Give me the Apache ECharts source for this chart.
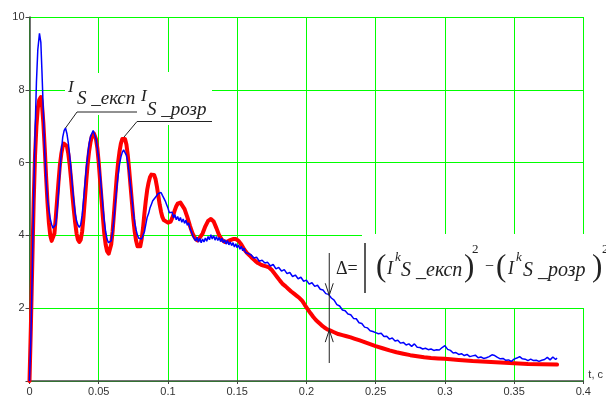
<!DOCTYPE html>
<html>
<head>
<meta charset="utf-8">
<script src="https://cdn.jsdelivr.net/npm/echarts@6/dist/echarts.min.js"></script>
<style>
  html, body { margin: 0; padding: 0; background: #fff; }
  #chart { width: 606px; height: 397px; }
</style>
</head>
<body>
<div id="chart"></div>
<script>
// експериментальний струм (синій)
const expT = [
  0, 0.001, 0.002, 0.003, 0.004, 0.005, 0.006, 0.0072, 0.0082, 0.009,
  0.010, 0.011, 0.012, 0.013, 0.014, 0.015, 0.016, 0.017, 0.018, 0.019,
  0.020, 0.021, 0.022, 0.023, 0.024, 0.025, 0.026, 0.027, 0.028, 0.029,
  0.030, 0.031, 0.032, 0.033, 0.034, 0.035, 0.036, 0.037, 0.038, 0.039,
  0.040, 0.041, 0.042, 0.043, 0.044, 0.045, 0.046, 0.047, 0.048, 0.049,
  0.050, 0.051, 0.052, 0.053, 0.054, 0.055, 0.056, 0.057, 0.058, 0.059,
  0.060, 0.061, 0.062, 0.063, 0.064, 0.065, 0.066, 0.067, 0.068, 0.069,
  0.070, 0.071, 0.072, 0.073, 0.074, 0.075, 0.076, 0.077, 0.078, 0.079,
  0.080, 0.081, 0.082, 0.083, 0.084, 0.085, 0.086, 0.087, 0.088, 0.089,
  0.090, 0.091, 0.092, 0.093, 0.094, 0.095, 0.096, 0.097, 0.098, 0.099,
  0.100, 0.101, 0.102, 0.103, 0.104, 0.105, 0.106, 0.107, 0.108, 0.109,
  0.110, 0.111, 0.112, 0.113, 0.114, 0.115, 0.116, 0.117, 0.118, 0.119,
  0.120, 0.121, 0.122, 0.123, 0.124, 0.125, 0.126, 0.127, 0.128, 0.129,
  0.130, 0.131, 0.132, 0.133, 0.134, 0.135, 0.136, 0.137, 0.138, 0.139,
  0.140, 0.141, 0.142, 0.143, 0.144, 0.145, 0.146, 0.147, 0.148, 0.149,
  0.150, 0.151, 0.152, 0.153, 0.154, 0.155, 0.156, 0.158, 0.160, 0.162,
  0.164, 0.166, 0.168, 0.170, 0.172, 0.174, 0.176, 0.178, 0.180, 0.182,
  0.184, 0.186, 0.188, 0.190, 0.192, 0.194, 0.196, 0.198, 0.200, 0.202,
  0.204, 0.206, 0.208, 0.210, 0.212, 0.214, 0.216, 0.218, 0.220, 0.222,
  0.224, 0.226, 0.228, 0.230, 0.232, 0.234, 0.236, 0.238, 0.240, 0.242,
  0.244, 0.246, 0.248, 0.250, 0.252, 0.254, 0.256, 0.258, 0.260, 0.262,
  0.264, 0.266, 0.268, 0.270, 0.272, 0.274, 0.276, 0.278, 0.280, 0.282,
  0.284, 0.286, 0.288, 0.290, 0.292, 0.294, 0.296, 0.298, 0.300, 0.302,
  0.304, 0.306, 0.308, 0.310, 0.312, 0.314, 0.316, 0.318, 0.320, 0.322,
  0.324, 0.326, 0.328, 0.330, 0.332, 0.334, 0.336, 0.338, 0.340, 0.342,
  0.344, 0.346, 0.348, 0.350, 0.352, 0.354, 0.356, 0.358, 0.360, 0.362,
  0.364, 0.366, 0.368, 0.370, 0.372, 0.374, 0.376, 0.378, 0.380, 0.381
];
const expI = [
  0, 1.2, 3.0, 5.0, 6.8, 8.2, 9.1, 9.55, 9.3, 8.5,
  7.4, 6.3, 5.5, 5.0, 4.7, 4.45, 4.3, 4.2, 4.18, 4.3,
  4.7, 5.2, 5.75, 6.3, 6.7, 6.88, 6.95, 6.8, 6.55, 6.2,
  5.8, 5.35, 4.95, 4.6, 4.4, 4.28, 4.22, 4.3, 4.55, 4.95,
  5.4, 5.85, 6.2, 6.5, 6.7, 6.8, 6.88, 6.85, 6.65, 6.4,
  6.1, 5.7, 5.25, 4.8, 4.4, 4.1, 3.9, 3.8, 3.77, 3.85,
  4.1, 4.45, 4.9, 5.3, 5.65, 5.95, 6.15, 6.28, 6.35, 6.33,
  6.2, 6.0, 5.7, 5.35, 5.0, 4.65, 4.35, 4.15, 4.0, 3.92,
  3.88, 3.9, 3.95, 4.1, 4.3, 4.5, 4.6, 4.75, 4.85, 4.95,
  5.0, 5.05, 5.1, 5.15, 5.12, 5.18, 5.1, 5.05, 4.95, 4.85,
  4.75, 4.62, 4.58, 4.64, 4.48, 4.57, 4.43, 4.52, 4.4, 4.49,
  4.36, 4.45, 4.33, 4.42, 4.28, 4.34, 4.18, 4.1, 3.98, 3.93,
  3.85, 3.95, 3.82, 3.92, 3.8, 3.9, 3.82, 3.93, 3.84, 3.97,
  3.88, 4.02, 3.9, 4.0, 3.87, 3.97, 3.86, 3.94, 3.83, 3.92,
  3.8, 3.88, 3.76, 3.86, 3.74, 3.82, 3.72, 3.8, 3.68, 3.77,
  3.66, 3.74, 3.62, 3.7, 3.58, 3.65, 3.53, 3.5, 3.47, 3.38,
  3.4, 3.29, 3.32, 3.24, 3.26, 3.16, 3.2, 3.08, 3.12, 3.02,
  3.06, 2.95, 2.98, 2.87, 2.91, 2.81, 2.85, 2.74, 2.77, 2.66,
  2.7, 2.6, 2.63, 2.52, 2.5, 2.4, 2.38, 2.28, 2.22, 2.1,
  2.06, 1.95, 1.93, 1.84, 1.82, 1.72, 1.71, 1.6, 1.58, 1.48,
  1.46, 1.38, 1.36, 1.33, 1.3, 1.31, 1.22, 1.23, 1.15, 1.18,
  1.1, 1.12, 1.04, 1.06, 0.99, 1.02, 0.95, 1.02, 0.93, 0.92,
  0.88, 0.9, 0.86, 0.88, 0.84, 0.86, 0.85, 0.92, 0.97, 0.87,
  0.84, 0.77, 0.78, 0.73, 0.75, 0.7, 0.73, 0.67, 0.69, 0.71,
  0.64, 0.66, 0.62, 0.64, 0.67, 0.72, 0.7, 0.65, 0.61, 0.62,
  0.57, 0.58, 0.54, 0.6, 0.63, 0.67, 0.61, 0.6, 0.56, 0.6,
  0.56, 0.57, 0.54, 0.57, 0.59, 0.65, 0.58, 0.66, 0.59, 0.63
];

// розрахунковий струм (червоний)
const calcT = [
  0, 0.001, 0.002, 0.003, 0.004, 0.005, 0.006, 0.007, 0.0082, 0.009,
  0.010, 0.011, 0.012, 0.013, 0.014, 0.015, 0.016, 0.017, 0.018, 0.019,
  0.020, 0.021, 0.022, 0.023, 0.024, 0.025, 0.0262, 0.027, 0.028, 0.029,
  0.030, 0.031, 0.032, 0.033, 0.034, 0.035, 0.036, 0.037, 0.038, 0.039,
  0.040, 0.041, 0.042, 0.043, 0.044, 0.045, 0.0465, 0.048, 0.049, 0.050,
  0.051, 0.052, 0.053, 0.054, 0.055, 0.056, 0.0572, 0.058, 0.059, 0.060,
  0.061, 0.062, 0.063, 0.064, 0.065, 0.066, 0.067, 0.0682, 0.069, 0.070,
  0.071, 0.072, 0.073, 0.074, 0.075, 0.076, 0.077, 0.078, 0.079, 0.080,
  0.081, 0.082, 0.083, 0.084, 0.085, 0.086, 0.087, 0.088, 0.089, 0.090,
  0.091, 0.092, 0.093, 0.094, 0.095, 0.096, 0.097, 0.098, 0.100, 0.101,
  0.102, 0.103, 0.104, 0.105, 0.106, 0.107, 0.108, 0.109, 0.110, 0.112,
  0.114, 0.116, 0.118, 0.120, 0.1216, 0.123, 0.125, 0.127, 0.129, 0.131,
  0.133, 0.135, 0.137, 0.139, 0.141, 0.143, 0.145, 0.147, 0.149, 0.151,
  0.153, 0.155, 0.157, 0.159, 0.161, 0.163, 0.165, 0.167, 0.169, 0.171,
  0.173, 0.175, 0.177, 0.179, 0.181, 0.183, 0.185, 0.187, 0.189, 0.191,
  0.193, 0.195, 0.197, 0.199, 0.201, 0.203, 0.205, 0.207, 0.209, 0.211,
  0.213, 0.215, 0.217, 0.220, 0.223, 0.226, 0.229, 0.232, 0.235, 0.238,
  0.241, 0.244, 0.247, 0.250, 0.255, 0.260, 0.265, 0.270, 0.275, 0.280,
  0.285, 0.290, 0.295, 0.300, 0.310, 0.320, 0.330, 0.340, 0.350, 0.360,
  0.370, 0.381
];
const calcI = [
  0, 1.5, 3.2, 4.9, 6.2, 7.0, 7.5, 7.72, 7.8, 7.6,
  7.1, 6.4, 5.6, 4.9, 4.35, 4.0, 3.85, 3.86, 4.05, 4.5,
  5.0, 5.5, 5.95, 6.25, 6.45, 6.52, 6.53, 6.45, 6.25, 5.95,
  5.55, 5.1, 4.7, 4.35, 4.05, 3.88, 3.82, 3.88, 4.1, 4.5,
  5.0, 5.5, 5.95, 6.3, 6.55, 6.72, 6.8, 6.65, 6.4, 6.0,
  5.5, 5.0, 4.5, 4.05, 3.75, 3.57, 3.5, 3.55, 3.75, 4.1,
  4.6, 5.1, 5.6, 6.0, 6.3, 6.52, 6.65, 6.7, 6.65, 6.5,
  6.2, 5.8, 5.35, 4.9, 4.45, 4.1, 3.85, 3.7, 3.66, 3.7,
  3.9, 4.2, 4.6, 4.95, 5.25, 5.45, 5.6, 5.67, 5.7, 5.66,
  5.55, 5.35, 5.1, 4.85, 4.65, 4.5, 4.42, 4.38, 4.35, 4.34,
  4.38, 4.47, 4.58, 4.7, 4.8, 4.87, 4.9, 4.9, 4.85, 4.72,
  4.5, 4.25, 4.03, 3.9, 3.86, 3.9, 4.05, 4.25, 4.4, 4.45,
  4.38, 4.2, 4.0, 3.88, 3.82, 3.83, 3.87, 3.9, 3.9, 3.85,
  3.75, 3.62, 3.52, 3.45, 3.37, 3.3, 3.24, 3.2, 3.17, 3.15,
  3.12, 3.05, 2.95, 2.85, 2.75, 2.66, 2.6, 2.53, 2.46, 2.4,
  2.34, 2.28, 2.2, 2.08, 1.97, 1.86, 1.76, 1.67, 1.6, 1.53,
  1.47, 1.42, 1.39, 1.34, 1.29, 1.26, 1.23, 1.2, 1.16, 1.12,
  1.08, 1.04, 1.0, 0.96, 0.9, 0.84, 0.79, 0.75, 0.71, 0.68,
  0.65, 0.63, 0.62, 0.61, 0.58, 0.55, 0.53, 0.51, 0.49, 0.47,
  0.46, 0.45
];

// точки, на які вказують підписи
const expLabelAt = [0.026, 6.95];
const calcLabelAt = [0.0682, 6.7];
const deltaT = 0.2165;

const chart = echarts.init(document.getElementById("chart"));

const axisColor = "#444";
const gridColor = "#00ff00";
const textColor = "#222";
const serif = "'Liberation Serif', 'DejaVu Serif', serif";

function valueAt(ts, vs, t) {
  for (let i = 1; i < ts.length; i++) {
    if (ts[i] >= t) {
      const k = (t - ts[i - 1]) / (ts[i] - ts[i - 1]);
      return vs[i - 1] + k * (vs[i] - vs[i - 1]);
    }
  }
  return vs[vs.length - 1];
}

const option = {
  backgroundColor: "#fff",
  animation: false,
  grid: { left: 29.5, right: 21, top: 17, bottom: 14 },
  xAxis: {
    type: "value",
    min: 0,
    max: 0.4,
    interval: 0.05,
    name: "t, c",
    nameLocation: "end",
    nameGap: 5,
    nameTextStyle: {
      color: "#333",
      fontSize: 11,
      fontFamily: "'Liberation Sans', Arial, sans-serif",
      verticalAlign: "bottom",
      padding: [0, 0, 1, 0],
    },
    axisLine: { onZero: false, lineStyle: { color: axisColor, width: 1.5 } },
    axisTick: { length: 3, lineStyle: { color: axisColor } },
    axisLabel: {
      color: "#333",
      fontSize: 11,
      fontFamily: "'Liberation Sans', Arial, sans-serif",
      margin: 5,
      formatter: (v) => String(+v.toFixed(2)),
    },
    splitLine: { show: true, lineStyle: { color: gridColor, width: 1 } },
  },
  yAxis: {
    type: "value",
    min: 0,
    max: 10,
    interval: 2,
    axisLine: { show: true, onZero: false, lineStyle: { color: axisColor, width: 1.5 } },
    axisTick: { show: true, length: 4, lineStyle: { color: axisColor } },
    axisLabel: {
      color: "#333",
      fontSize: 11,
      fontFamily: "'Liberation Sans', Arial, sans-serif",
      margin: 5,
      formatter: (v) => (v === 0 ? "" : String(v)),
    },
    splitLine: { show: true, lineStyle: { color: gridColor, width: 1 } },
  },
  series: [
    {
      name: "I_S_розр",
      type: "line",
      data: calcT.map((t, i) => [t, calcI[i]]),
      showSymbol: false,
      symbol: "none",
      lineStyle: { color: "#ff0000", width: 4, join: "round", cap: "round" },
      z: 2,
    },
    {
      name: "I_S_експ",
      type: "line",
      data: expT.map((t, i) => [t, expI[i]]),
      showSymbol: false,
      symbol: "none",
      lineStyle: { color: "#0000ff", width: 1.5 },
      z: 3,
    },
  ],
};

chart.setOption(option);

// підписи та позначка похибки
const px = (p) => chart.convertToPixel({ gridIndex: 0 }, p);
const a1 = px(expLabelAt);
const a2 = px(calcLabelAt);
const dExp = px([deltaT, valueAt(expT, expI, deltaT)]);
const dCalc = px([deltaT, valueAt(calcT, calcI, deltaT)]);

function txt(x, y, text, size, italic) {
  return {
    type: "text",
    z: 100,
    style: {
      x: x,
      y: y,
      text: text,
      fill: textColor,
      font: (italic ? "italic " : "") + size + "px " + serif,
      verticalAlign: "middle",
      align: "left",
    },
  };
}
function line(points, w) {
  return {
    type: "polyline",
    z: 100,
    shape: { points: points },
    style: { stroke: textColor, lineWidth: w || 1, fill: null },
  };
}
function box(x, y, w, h) {
  return {
    type: "rect",
    z: 1,
    shape: { x: x, y: y, width: w, height: h },
    style: { fill: "#fff" },
  };
}

const dx = dExp[0];
chart.setOption({
  graphic: [
    box(65, 73, 72, 42),
    box(137, 72, 75, 53),
    box(362, 234, 244, 74),

    txt(68, 88, "I", 17, true),
    txt(77, 99, "S _експ", 19, true),
    line([[137, 112], [77, 112], a1]),

    txt(141, 97, "I", 17, true),
    txt(147, 110, "S _розр", 19, true),
    line([[212, 121.5], [137, 121.5], a2]),

    line([[dx, 253], [dx, 363]]),
    line([[dx - 4, dExp[1] - 12], [dx, dExp[1]], [dx + 4, dExp[1] - 12]]),
    line([[dx - 4, dCalc[1] + 12], [dx, dCalc[1]], [dx + 4, dCalc[1] + 12]]),

    txt(336, 269, "\u0394=", 18, false),
    line([[365, 243], [365, 293]], 1.5),
    txt(376, 268, "(", 31, false),
    txt(387, 269, "I", 18, true),
    txt(395, 258, "k", 13, true),
    txt(401, 271, "S _експ", 20, true),
    txt(464, 268, ")", 31, false),
    txt(472, 250, "2", 13, false),
    txt(485, 267, "\u2212", 16, false),
    txt(496, 268, "(", 31, false),
    txt(508, 269, "I", 18, true),
    txt(516, 258, "k", 13, true),
    txt(523, 271, "S _розр", 20, true),
    txt(592, 268, ")", 31, false),
    txt(602, 250, "2", 13, false),
  ],
});
</script>
</body>
</html>
